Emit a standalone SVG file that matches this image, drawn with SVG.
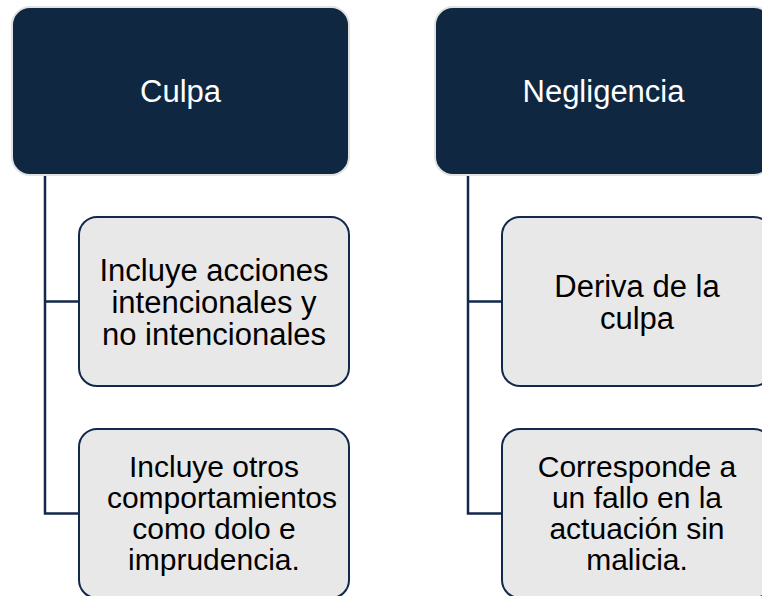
<svg xmlns="http://www.w3.org/2000/svg" width="762" height="596" viewBox="0 0 762 596">
<style>
.top{fill:#0f2741;stroke:#e2e2e2;stroke-width:2}
.child{fill:#e8e8e8;stroke:#13294b;stroke-width:2}
.conn{fill:none;stroke:#13294b;stroke-width:2.5}
text{font-family:"Liberation Sans",Arial,sans-serif;font-size:31px;text-anchor:middle}
.tt{fill:#ffffff}
.ct{fill:#000000}
.s4{font-size:30px}
</style>
<rect width="762" height="596" fill="#ffffff"/>
<g id="connectors">
<path class="conn" d="M45,175 V513.5 H79 M45,301.5 H79"/>
<path class="conn" d="M468,175 V513.5 H502 M468,301.5 H502"/>
</g>
<g id="culpa">
<rect class="top" x="12" y="7" width="337" height="168" rx="18"/>
<text class="tt" x="180.5" y="102">Culpa</text>
</g>
<g id="culpa-1">
<rect class="child" x="79" y="217" width="270" height="169" rx="18"/>
<text class="ct" x="214" y="281">Incluye acciones</text>
<text class="ct" x="214" y="313">intencionales y</text>
<text class="ct" x="214" y="345">no intencionales</text>
</g>
<g id="culpa-2">
<rect class="child" x="79" y="429" width="270" height="169" rx="18"/>
<text class="ct s4" x="214" y="477">Incluye otros</text>
<text class="ct s4" x="222" y="508">comportamientos</text>
<text class="ct s4" x="214" y="539">como dolo e</text>
<text class="ct s4" x="214" y="570">imprudencia.</text>
</g>
<g id="negligencia">
<rect class="top" x="435" y="7" width="337" height="168" rx="18"/>
<text class="tt" x="603.5" y="102">Negligencia</text>
</g>
<g id="negligencia-1">
<rect class="child" x="502" y="217" width="270" height="169" rx="18"/>
<text class="ct" x="637" y="297">Deriva de la</text>
<text class="ct" x="637" y="329">culpa</text>
</g>
<g id="negligencia-2">
<rect class="child" x="502" y="429" width="270" height="169" rx="18"/>
<text class="ct s4" x="637" y="477">Corresponde a</text>
<text class="ct s4" x="637" y="508">un fallo en la</text>
<text class="ct s4" x="637" y="539">actuación sin</text>
<text class="ct s4" x="637" y="570">malicia.</text>
</g>
</svg>
